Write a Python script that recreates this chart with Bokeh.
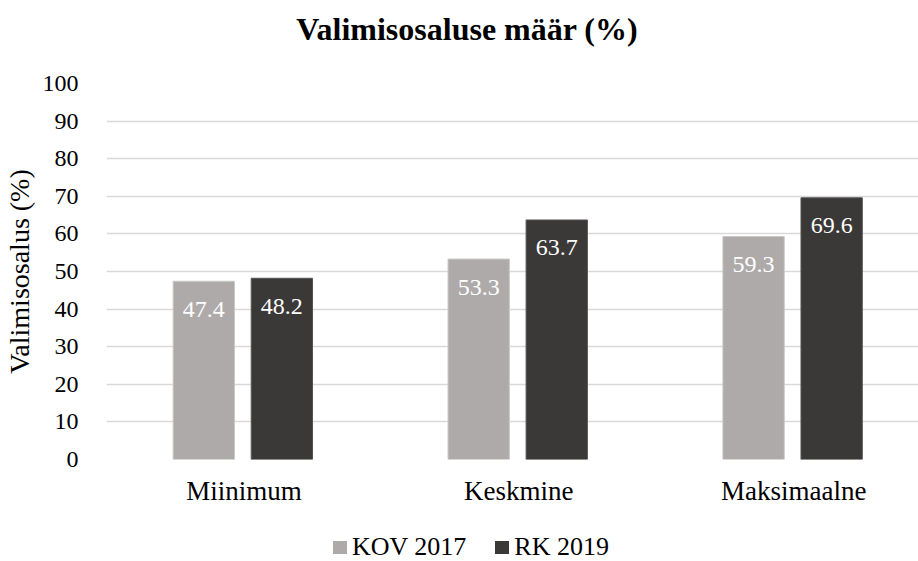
from bokeh.plotting import figure
from bokeh.models import FixedTicker, Range1d, ColumnDataSource, Div
from bokeh.layouts import column
from bokeh.core.properties import value
from bokeh.transform import dodge
from bokeh.embed import file_html
from bokeh.resources import INLINE

title_text = "Valimisosaluse määr (%)"
y_label = "Valimisosalus (%)"
categories = ["Miinimum", "Keskmine", "Maksimaalne"]
kov_2017 = [47.4, 53.3, 59.3]
rk_2019 = [48.2, 63.7, 69.6]
series_names = ["KOV 2017", "RK 2019"]
y_ticks = list(range(0, 101, 10))

FONT = "Liberation Serif"
GREY = "#AEAAAA"
DARK = "#3B3838"
colors = [GREY, DARK]

xs = list(range(len(categories)))
src = ColumnDataSource(dict(
    x=xs, kov=kov_2017, rk=rk_2019,
    kov_lbl=[f"{v:.1f}" for v in kov_2017],
    rk_lbl=[f"{v:.1f}" for v in rk_2019],
))

# ---- title (HTML text above the plot) ----
title_div = Div(
    text=(f'<div style="width:902px;font-family:\'{FONT}\',serif;font-weight:bold;font-size:32px;'
          f'line-height:32px;text-align:center;color:#000;white-space:nowrap">{title_text}</div>'),
    width=902, height=47, margin=(13, 0, 0, 16))

# ---- plot ----
p = figure(width=918, height=472, output_backend="svg", toolbar_location=None,
           x_range=Range1d(-0.5, 2.454), y_range=Range1d(0, 100),
           min_border_left=104, min_border_right=0, min_border_top=23, min_border_bottom=73)
p.outline_line_color = None
p.title.visible = False

bw = 0.223
off = 0.142
p.vbar(x=dodge("x", -off - 0.004), top="kov", width=bw, source=src, fill_color=GREY,
       line_color="#C9C6C6", line_width=1)
p.vbar(x=dodge("x", off - 0.004), top="rk", width=bw, source=src, fill_color=DARK,
       line_color="#555252", line_width=1)

for col, lbl, o in (("kov", "kov_lbl", -off - 0.004), ("rk", "rk_lbl", off - 0.004)):
    p.text(x=dodge("x", o), y=col, text=lbl, source=src, text_color="white",
           text_font=value(FONT), text_font_size="24px", text_align="center",
           text_baseline="alphabetic", y_offset=28)

p.xaxis.ticker = FixedTicker(ticks=xs)
p.xaxis.major_label_overrides = {i: c for i, c in enumerate(categories)}
p.xaxis.axis_line_color = None
p.xaxis.major_tick_line_color = None
p.xaxis.minor_tick_line_color = None
p.xaxis.major_label_text_font = FONT
p.xaxis.major_label_text_font_size = "27px"
p.xaxis.major_label_text_color = "#000000"
p.xaxis.major_label_standoff = 10

p.yaxis.ticker = FixedTicker(ticks=y_ticks)
p.yaxis.axis_line_color = None
p.yaxis.major_tick_line_color = None
p.yaxis.minor_tick_line_color = None
p.yaxis.major_label_text_font = FONT
p.yaxis.major_label_text_font_size = "24px"
p.yaxis.major_label_text_color = "#000000"
p.yaxis.major_label_standoff = 22
p.yaxis.axis_label = y_label
p.yaxis.axis_label_text_font = FONT
p.yaxis.axis_label_text_font_size = "28px"
p.yaxis.axis_label_text_font_style = "normal"
p.yaxis.axis_label_text_color = "#000000"
p.yaxis.axis_label_standoff = 5

p.xgrid.grid_line_color = None
p.ygrid.grid_line_color = "#D9D9D9"
p.ygrid.grid_line_width = 1.5

# ---- legend (HTML below the plot) ----
def swatch(color, left):
    return (f'<span style="display:inline-block;width:14px;height:13px;background:{color};'
            f'margin:0 5px 1px {left}px;vertical-align:baseline"></span>')

legend_html = "".join(
    swatch(c, 333 if i == 0 else 29) + f'<span>{name}</span>'
    for i, (c, name) in enumerate(zip(colors, series_names)))
legend_div = Div(
    text=(f'<div style="font-family:\'{FONT}\',serif;font-size:26px;line-height:29px;'
          f'color:#000;white-space:nowrap">{legend_html}</div>'),
    width=918, height=29, margin=0)

layout = column(title_div, p, legend_div, spacing=0)
open("out.html", "w").write(file_html(layout, INLINE))
